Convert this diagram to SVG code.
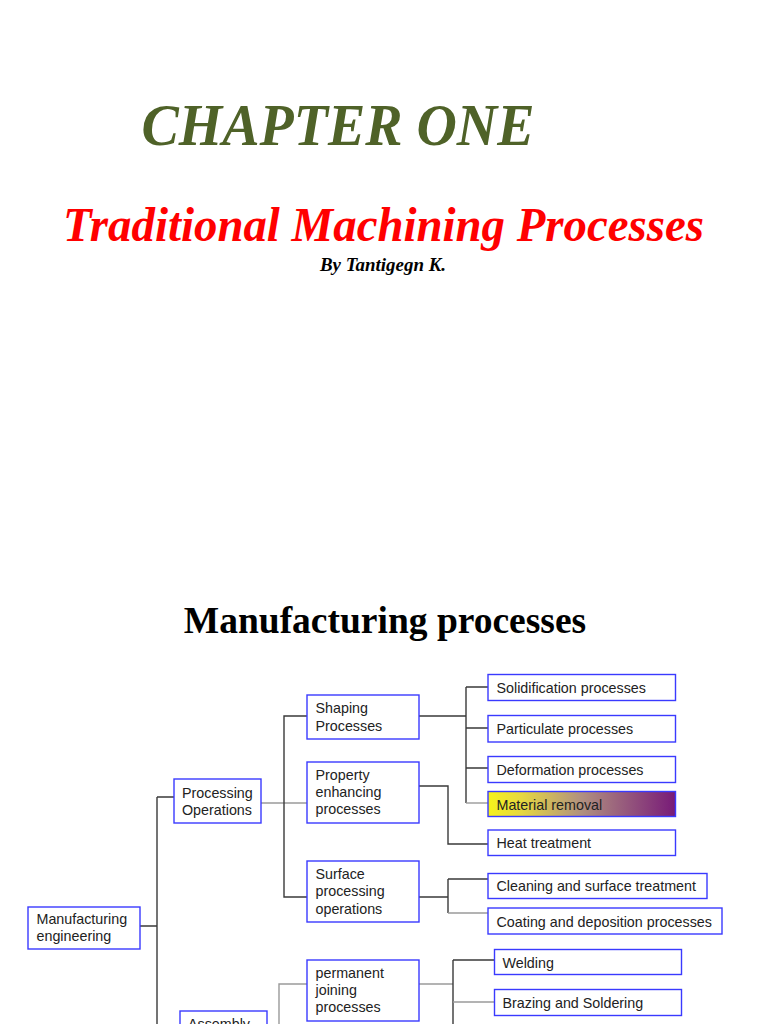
<svg xmlns="http://www.w3.org/2000/svg" width="768" height="1024" viewBox="0 0 768 1024">
<defs>
<style>
.box{fill:#ffffff;stroke:#3a3aff;stroke-width:1.4}
.t{font-family:"Liberation Sans",Arial,sans-serif;font-size:14.3px;fill:#222222}
.d{stroke:#3a3a3a;stroke-width:1.4;fill:none}
.g{stroke:#9a9a9a;stroke-width:1.4;fill:none}
</style>
<linearGradient id="mr" x1="0" y1="0" x2="1" y2="0">
<stop offset="0" stop-color="#f6f21a"/>
<stop offset="0.18" stop-color="#e6d840"/>
<stop offset="0.5" stop-color="#b09080"/>
<stop offset="1" stop-color="#781a78"/>
</linearGradient>
</defs>
<rect width="768" height="1024" fill="#ffffff"/>
<g id="titles">
<text x="338" y="145" text-anchor="middle" font-family="Liberation Serif, serif" font-weight="bold" font-style="italic" font-size="60" fill="#4f6228" textLength="393" lengthAdjust="spacingAndGlyphs">CHAPTER ONE</text>
<text x="383.5" y="241" text-anchor="middle" font-family="Liberation Serif, serif" font-weight="bold" font-style="italic" font-size="48" fill="#ff0000" textLength="641" lengthAdjust="spacingAndGlyphs">Traditional Machining Processes</text>
<text x="383" y="271" text-anchor="middle" font-family="Liberation Serif, serif" font-weight="bold" font-style="italic" font-size="18" fill="#000000" textLength="126" lengthAdjust="spacingAndGlyphs">By Tantigegn K.</text>
<text x="385" y="633" text-anchor="middle" font-family="Liberation Serif, serif" font-weight="bold" font-size="37.5" fill="#000000">Manufacturing processes</text>
</g>
<g id="connectors">
<path class="d" d="M140 926H157M157 797V1030M157 797H174"/>
<path class="g" d="M261 803H307"/>
<path class="d" d="M307 716H284V897H307"/>
<path class="d" d="M419 716H466M466 687V803M466 687H488M466 728H488M466 768H488"/>
<path class="g" d="M466 803H488"/>
<path class="d" d="M419 786H448V844H488"/>
<path class="d" d="M419 897H448M448 879V913M448 879H488"/>
<path class="g" d="M448 913H488"/>
<path class="g" d="M419 984H453"/>
<path class="d" d="M453 960V1030M453 960H494"/>
<path class="g" d="M453 1002H494"/>
<path class="g" d="M279 1030V984H307"/>
</g>
<g id="n-manufacturing-engineering">
<rect class="box" x="28" y="907" width="112" height="42"/>
<text class="t" x="36.5" y="924">Manufacturing</text>
<text class="t" x="36.5" y="941">engineering</text>
</g>
<g id="n-processing-operations">
<rect class="box" x="174" y="779" width="87" height="44"/>
<text class="t" x="182" y="798">Processing</text>
<text class="t" x="182" y="815">Operations</text>
</g>
<g id="n-assembly">
<rect class="box" x="180" y="1011" width="87" height="44"/>
<text class="t" x="188" y="1029">Assembly</text>
</g>
<g id="n-shaping">
<rect class="box" x="307" y="695" width="112" height="44"/>
<text class="t" x="315.5" y="713">Shaping</text>
<text class="t" x="315.5" y="731">Processes</text>
</g>
<g id="n-property">
<rect class="box" x="307" y="762" width="112" height="61"/>
<text class="t" x="315.5" y="780">Property</text>
<text class="t" x="315.5" y="797">enhancing</text>
<text class="t" x="315.5" y="814">processes</text>
</g>
<g id="n-surface">
<rect class="box" x="307" y="861" width="112" height="61"/>
<text class="t" x="315.5" y="879">Surface</text>
<text class="t" x="315.5" y="896">processing</text>
<text class="t" x="315.5" y="913.5">operations</text>
</g>
<g id="n-permanent">
<rect class="box" x="307" y="960" width="112" height="61"/>
<text class="t" x="315.5" y="977.5">permanent</text>
<text class="t" x="315.5" y="994.5">joining</text>
<text class="t" x="315.5" y="1011.5">processes</text>
</g>
<g id="n-solidification">
<rect class="box" x="488" y="674.5" width="187.5" height="26"/>
<text class="t" x="496.5" y="693">Solidification processes</text>
</g>
<g id="n-particulate">
<rect class="box" x="488" y="715.5" width="187.5" height="26.5"/>
<text class="t" x="496.5" y="734">Particulate processes</text>
</g>
<g id="n-deformation">
<rect class="box" x="488" y="756.5" width="187.5" height="26"/>
<text class="t" x="496.5" y="775">Deformation processes</text>
</g>
<g id="n-material-removal">
<rect x="488" y="791.5" width="187.5" height="25" fill="url(#mr)" stroke="#3a3aff" stroke-width="1.4"/>
<text class="t" x="496.5" y="809.5">Material removal</text>
</g>
<g id="n-heat-treatment">
<rect class="box" x="488" y="830" width="187.5" height="25.5"/>
<text class="t" x="496.5" y="847.5">Heat treatment</text>
</g>
<g id="n-cleaning">
<rect class="box" x="488" y="873.5" width="219" height="25"/>
<text class="t" x="496.5" y="891">Cleaning and surface treatment</text>
</g>
<g id="n-coating">
<rect class="box" x="488" y="908" width="234" height="26"/>
<text class="t" x="496.5" y="926.5">Coating and deposition processes</text>
</g>
<g id="n-welding">
<rect class="box" x="494.5" y="949.5" width="187" height="25"/>
<text class="t" x="502.5" y="967.5">Welding</text>
</g>
<g id="n-brazing">
<rect class="box" x="494.5" y="989.5" width="187" height="26"/>
<text class="t" x="502.5" y="1008">Brazing and Soldering</text>
</g>
</svg>
